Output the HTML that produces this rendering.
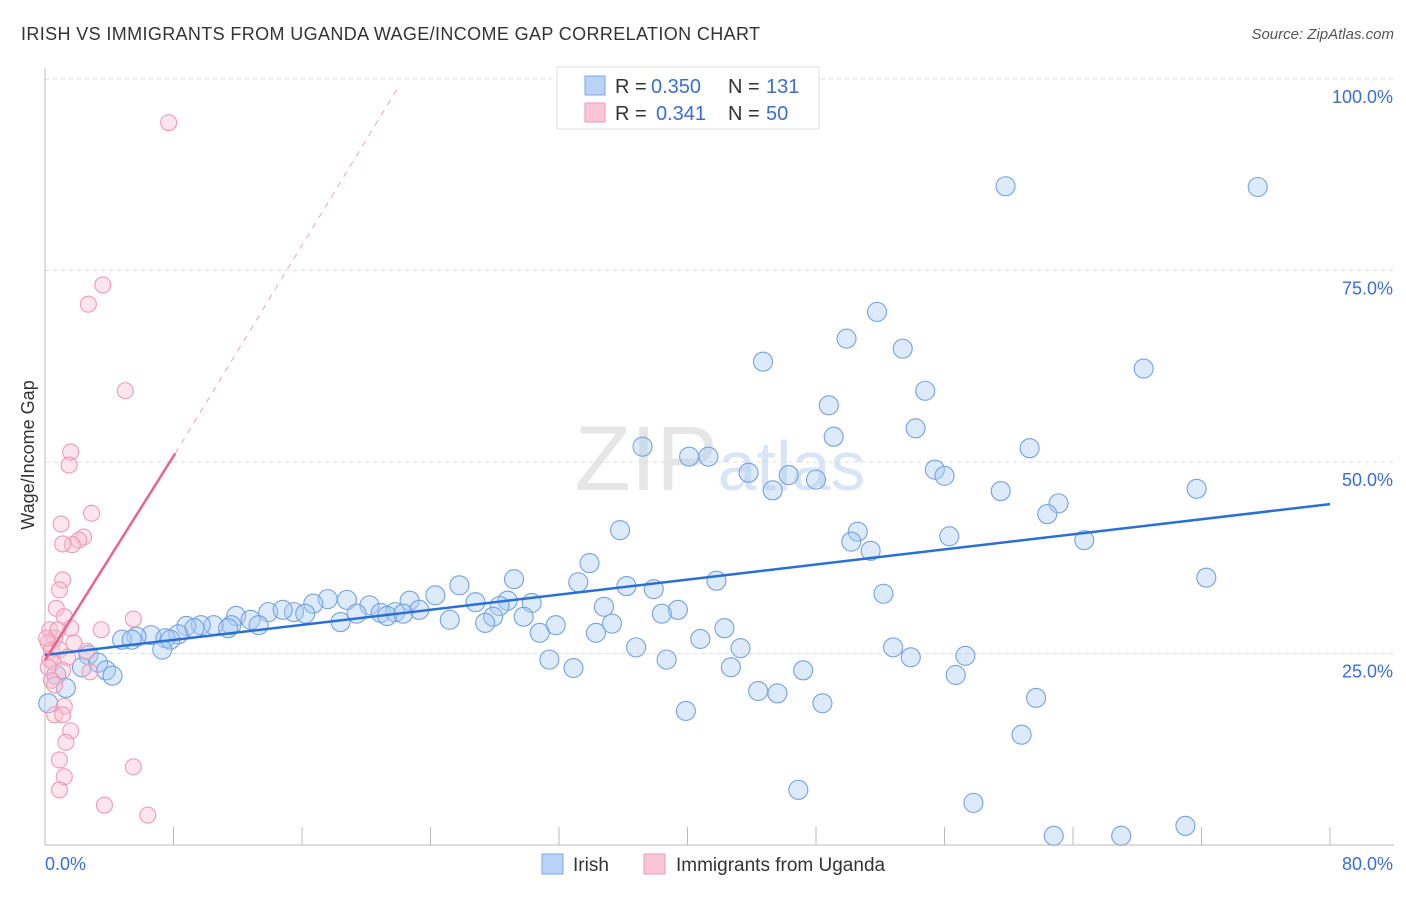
<!DOCTYPE html>
<html><head><meta charset="utf-8"><style>
body{margin:0;background:#fff;font-family:"Liberation Sans",sans-serif;}
svg text{font-family:"Liberation Sans",sans-serif;}
</style></head><body>
<svg id="chart" width="1406" height="892" xmlns="http://www.w3.org/2000/svg">
<text x="21" y="40" font-size="18" fill="#333" textLength="739">IRISH VS IMMIGRANTS FROM UGANDA WAGE/INCOME GAP CORRELATION CHART</text>
<text x="1394" y="39" font-size="15" fill="#555" font-style="italic" text-anchor="end">Source: ZipAtlas.com</text>
<text x="720" y="490" font-size="92" text-anchor="middle" fill="#e6e6e6" font-family="Liberation Serif">ZIP<tspan fill="#d9e5f6" font-family="Liberation Sans" font-size="70">atlas</tspan></text>
<g id="grid"></g>
<g id="axes"></g>
<g id="marks"></g>
<g id="legend">
<rect x="557" y="67" width="262" height="62" fill="#fff" stroke="#ddd"/>
<rect x="585" y="76" width="20" height="19" fill="#b8d3f5" stroke="#7aa7e6"/>
<rect x="585" y="103" width="20" height="19" fill="#f9c6d5" stroke="#ee9ab5"/>
<text x="615" y="93" font-size="20" fill="#333">R =</text>
<text x="651" y="93" font-size="20" fill="#3a6fd0">0.350</text>
<text x="728" y="93" font-size="20" fill="#333">N =</text>
<text x="766" y="93" font-size="20" fill="#3a6fd0">131</text>
<text x="615" y="120" font-size="20" fill="#333">R =</text>
<text x="656" y="120" font-size="20" fill="#3a6fd0">0.341</text>
<text x="728" y="120" font-size="20" fill="#333">N =</text>
<text x="766" y="120" font-size="20" fill="#3a6fd0">50</text>
</g>
<g>
<rect x="542" y="854" width="21" height="20" fill="#b8d3f5" stroke="#7aa7e6"/>
<text x="573" y="871" font-size="19" fill="#333">Irish</text>
<rect x="644" y="854" width="21" height="20" fill="#f9c6d5" stroke="#ee9ab5"/>
<text x="676" y="871" font-size="19" fill="#333">Immigrants from Uganda</text>
</g>
<text transform="translate(34,455) rotate(-90)" font-size="18" fill="#333" text-anchor="middle">Wage/Income Gap</text>
</svg>
<script>
const xTickLabels=["0.0%","80.0%"];
const yTicks=[25,50,75,100];
const yTickLabels=["25.0%","50.0%","75.0%","100.0%"];
const irishX=[59.8,75.5,51.8,49.9,53.4,44.7,68.4,54.8,48.8,54.2,49.1,37.2,61.3,40.1,41.3,55.4,56.0,43.8,46.3,48.0,45.3,59.5,71.7,63.1,62.4,35.8,50.6,50.2,56.3,64.7,51.4,33.9,72.3,41.8,29.2,33.2,25.8,36.2,37.9,52.2,24.3,17.6,18.8,16.7,20.2,22.7,26.8,28.8,30.3,34.8,39.4,38.4,20.9,21.8,23.3,28.3,15.5,13.9,14.8,16.2,11.9,12.8,19.4,21.3,22.3,25.2,27.9,29.8,18.4,27.4,35.3,42.3,31.8,11.6,10.5,9.7,13.3,8.8,9.3,11.4,30.8,34.3,8.3,6.6,5.7,4.8,7.5,7.8,5.4,40.8,52.8,43.3,36.8,7.3,57.3,53.9,31.4,38.7,2.7,32.9,42.7,47.2,3.3,2.3,3.8,56.7,4.2,0.7,1.3,44.4,45.6,61.7,48.4,39.9,0.2,60.8,46.9,57.8,71.0,62.8,67.0];
const irishY=[86.0,85.9,69.6,66.1,64.8,63.1,62.2,59.3,57.4,54.4,53.3,52.0,51.8,50.7,50.7,49.0,48.2,48.6,48.3,47.7,46.3,46.2,46.5,44.6,43.2,41.1,40.9,39.6,40.3,39.8,38.4,36.8,34.9,34.5,34.7,34.3,33.9,33.8,33.4,32.8,32.6,32.1,32.0,31.5,31.3,31.9,31.7,31.9,31.6,31.1,30.7,30.2,30.3,30.4,30.7,31.2,30.4,30.4,30.7,30.2,29.9,29.4,30.2,29.9,30.2,29.4,29.8,29.8,29.1,29.0,28.9,28.3,28.7,28.7,28.7,28.7,28.7,28.6,28.3,28.3,27.7,27.7,27.5,27.4,27.2,26.8,27.0,26.8,26.8,26.9,25.8,25.7,25.8,25.5,24.7,24.5,24.2,24.2,24.8,23.1,23.2,22.8,23.8,23.2,22.8,22.2,22.1,22.2,20.5,20.1,19.8,19.2,18.5,17.5,18.5,14.4,7.2,5.5,2.5,1.2,1.2];
const ugX=[7.7,3.6,2.7,5.0,1.6,1.5,2.9,1.0,2.4,2.1,1.7,1.1,1.1,0.9,0.7,5.5,1.2,1.6,3.5,0.3,0.6,0.2,1.8,0.4,0.9,2.6,1.4,0.3,0.5,1.1,2.8,0.4,0.6,1.2,0.6,1.1,1.6,1.3,0.9,1.2,0.9,5.5,3.7,6.4,0.2,0.1,0.8];
const ugY=[94.3,73.1,70.6,59.3,51.3,49.6,43.3,41.9,40.2,39.8,39.2,39.3,34.6,33.3,30.9,29.5,29.8,28.3,28.1,28.1,27.0,26.4,26.4,25.5,25.5,25.3,24.5,24.2,23.9,22.8,22.6,21.5,20.9,18.1,17.0,17.0,14.9,13.4,11.1,8.9,7.2,10.2,5.2,3.9,23.2,27.0,28.1];
const irishTrend=[[0,24.8],[80,44.5]];
const ugTrend=[[0,24.1],[8.1,51.1]];
const ugTrendExt=[[8.1,51.1],[22.1,99.3]];

const NS="http://www.w3.org/2000/svg";
const X=v=>45+v/80*1285;
const Y=v=>845-v/100*766;
function mk(tag,attrs,parent){const e=document.createElementNS(NS,tag);for(const k in attrs)e.setAttribute(k,attrs[k]);parent.appendChild(e);return e;}
const grid=document.getElementById('grid'),axes=document.getElementById('axes'),marks=document.getElementById('marks');
yTicks.forEach((t,i)=>{
  const l=mk('line',{x1:45,x2:1394,y1:Y(t),y2:Y(t),stroke:'#ddd','stroke-dasharray':'4,4'},grid);
  
  
  const tx=mk('text',{x:1393,y:Y(t)+24,'font-size':18,fill:'#3a6fd0','text-anchor':'end'},axes);
  tx.textContent=yTickLabels[i];
  
  
});
let a=mk('line',{x1:45,x2:45,y1:68,y2:845,stroke:'#bbb'},axes);

a=mk('line',{x1:45,x2:1394,y1:845,y2:845,stroke:'#bbb'},axes);

for(let i=1;i<=10;i++){const t=mk('line',{x1:X(i*8),x2:X(i*8),y1:827,y2:845,stroke:'#bbb'},axes);
}
let xl=mk('text',{x:45,y:870,'font-size':18,fill:'#3a6fd0'},axes);xl.textContent=xTickLabels[0];

xl=mk('text',{x:1393,y:870,'font-size':18,fill:'#3a6fd0','text-anchor':'end'},axes);xl.textContent=xTickLabels[1];


irishX.forEach((v,i)=>{const c=mk('circle',{cx:X(v),cy:Y(irishY[i]),r:9.5,fill:'rgba(170,202,242,0.4)',stroke:'#74a1e2','stroke-width':1.1},marks);
});
ugX.forEach((v,i)=>{const c=mk('circle',{cx:X(v),cy:Y(ugY[i]),r:8,fill:'rgba(248,190,208,0.4)',stroke:'#ee9ab5','stroke-width':1.1},marks);
});
let tl=mk('line',{x1:X(irishTrend[0][0]),y1:Y(irishTrend[0][1]),x2:X(irishTrend[1][0]),y2:Y(irishTrend[1][1]),stroke:'#2a6fd6','stroke-width':2.5},marks);

tl=mk('line',{x1:X(ugTrend[0][0]),y1:Y(ugTrend[0][1]),x2:X(ugTrend[1][0]),y2:Y(ugTrend[1][1]),stroke:'#e8648e','stroke-width':2.5},marks);

tl=mk('line',{x1:X(ugTrendExt[0][0]),y1:Y(ugTrendExt[0][1]),x2:X(ugTrendExt[1][0]),y2:Y(ugTrendExt[1][1]),stroke:'#eea0b8','stroke-width':1,'stroke-dasharray':'6,6'},marks);

</script>
</body></html>
